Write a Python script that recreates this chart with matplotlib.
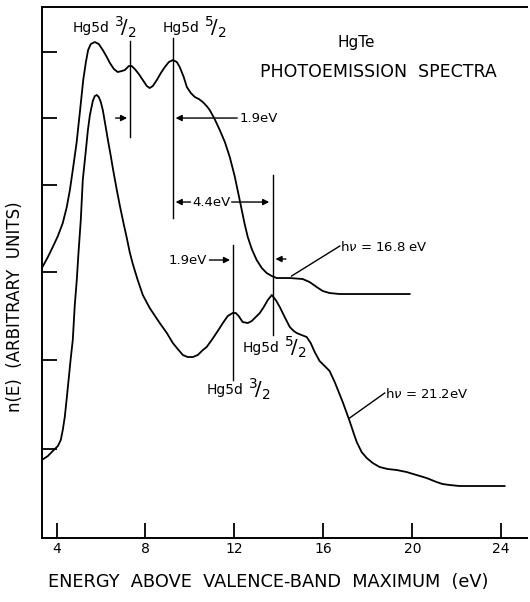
import matplotlib
matplotlib.use("Agg")
import matplotlib.pyplot as plt

# HgTe photoemission spectra (energy in eV, n(E) arbitrary)
e_168 = [3.34, 3.61, 3.83, 4.06, 4.28, 4.46, 4.60, 4.73, 4.90, 5.05, 5.20, 5.32,
         5.42, 5.54, 5.72, 5.90, 6.08, 6.26, 6.40, 6.58, 6.75, 6.93, 7.07, 7.25,
         7.38, 7.52, 7.70, 7.88, 8.06, 8.19, 8.33, 8.51, 8.69, 8.87, 9.05, 9.23,
         9.41, 9.54, 9.72, 9.86, 10.04, 10.22, 10.40, 10.58, 10.75, 10.89, 11.11,
         11.34, 11.57, 11.79, 12.01, 12.19, 12.33, 12.46, 12.60, 12.78, 13.00,
         13.23, 13.45, 13.68, 13.90, 14.49, 15.07, 15.38, 15.70, 15.97, 16.28,
         16.73, 17.63, 19.88]
n_168 = [27.0, 28.1, 29.1, 30.2, 31.5, 33.1, 34.8, 36.8, 39.5, 42.6, 45.8, 47.6,
         48.8, 49.4, 49.6, 49.4, 48.8, 48.1, 47.5, 46.9, 46.6, 46.7, 46.8, 47.2,
         47.2, 46.9, 46.4, 45.8, 45.2, 45.0, 45.2, 45.8, 46.5, 47.1, 47.6, 47.8,
         47.6, 47.1, 46.1, 45.1, 44.5, 44.1, 43.9, 43.6, 43.2, 42.8, 41.9,
         40.8, 39.6, 38.1, 36.2, 34.3, 32.8, 31.4, 30.1, 28.9, 27.8,
         27.0, 26.5, 26.2, 26.0, 26.0, 25.9, 25.6, 25.1, 24.7, 24.5,
         24.4, 24.4, 24.4]

e_212 = [3.34, 3.61, 3.83, 4.06, 4.19, 4.28, 4.37, 4.46, 4.55, 4.64, 4.73, 4.82,
         4.91, 4.98, 5.09, 5.18, 5.32, 5.41, 5.50, 5.63, 5.72, 5.81, 5.90, 5.99,
         6.08, 6.22, 6.31, 6.44, 6.53, 6.71, 6.85, 7.02, 7.16, 7.29, 7.43, 7.65,
         7.88, 8.19, 8.64, 8.96, 9.23, 9.45, 9.68, 9.90, 10.13, 10.35, 10.58,
         10.75, 10.98, 11.25, 11.48, 11.70, 11.92, 12.06, 12.19, 12.37, 12.60,
         12.78, 12.96, 13.14, 13.32, 13.50, 13.68, 13.86, 14.04, 14.26, 14.49,
         14.67, 14.80, 15.02, 15.25, 15.43, 15.61, 15.83, 16.06, 16.28, 16.51,
         16.69, 16.87, 17.05, 17.18, 17.36, 17.50, 17.72, 17.95, 18.22, 18.53,
         18.89, 19.30, 19.74, 20.19, 20.64, 21.09, 21.36, 21.68, 22.12, 24.15]
n_212 = [7.8, 8.2, 8.7, 9.2, 9.8, 10.8, 12.1, 14.0, 16.0, 18.0, 19.8, 23.3,
         25.8, 28.3, 31.8, 35.8, 38.8, 40.8, 42.3, 43.7, 44.2, 44.3, 44.1, 43.6,
         42.8, 41.0, 39.8, 38.2, 37.0, 34.8, 33.2, 31.4, 30.0, 28.6, 27.4, 25.8,
         24.3, 23.0, 21.5, 20.5, 19.5, 18.9, 18.3, 18.1, 18.1, 18.3, 18.8,
         19.1, 19.8, 20.7, 21.5, 22.2, 22.5, 22.5, 22.2, 21.6, 21.5,
         21.7, 22.1, 22.5, 23.1, 23.8, 24.3, 23.8, 23.1, 22.1, 21.1,
         20.7, 20.5, 20.3, 20.1, 19.5, 18.6, 17.7, 17.2, 16.7, 15.6,
         14.6, 13.6, 12.5, 11.7, 10.5, 9.6, 8.6, 8.0, 7.5, 7.1,
         6.9, 6.8, 6.6, 6.3, 6.0, 5.6, 5.4, 5.3, 5.2, 5.2]

x_ticks = [4, 8, 12, 16, 20, 24]
x_tick_labels = ["4", "8", "12", "16", "20", "24"]
y_ticks = [8.9, 17.8, 26.6, 35.3, 42.0, 48.6]

# positions of the Hg 5d levels (eV)
hg_32_top, hg_52_top = 7.30, 9.23
hg_32_low, hg_52_low = 11.93, 13.72

fig = plt.figure(figsize=(5.3, 6.02), dpi=100)
ax = fig.add_axes([0.079, 0.1063, 0.915, 0.882])

ax.plot(e_168, n_168, color="black", lw=1.3, solid_joinstyle="round")
ax.plot(e_212, n_212, color="black", lw=1.3, solid_joinstyle="round")

ax.set_xlim(3.34, 25.15)
ax.set_ylim(0, 53.1)
ax.spines["right"].set_visible(False)
for s in ["left", "bottom", "top"]:
    ax.spines[s].set_linewidth(1.4)
ax.set_xticks(x_ticks)
ax.set_xticklabels(x_tick_labels, fontsize=10)
ax.set_yticks(y_ticks)
ax.set_yticklabels([])
ax.tick_params(direction="in", length=11, width=1.3, pad=3)

ax.set_xlabel("ENERGY  ABOVE  VALENCE-BAND  MAXIMUM  (eV)", fontsize=12.8, va="center")
ax.xaxis.set_label_coords(0.466, -0.083)
ax.set_ylabel("n(E)  (ARBITRARY  UNITS)", fontsize=12, va="center")
ax.yaxis.set_label_coords(-0.056, 0.435)

lk = dict(color="black", lw=1.0)
ak = dict(arrowstyle="-|>", color="black", lw=1.0, mutation_scale=9)


def hg_label(x, y, num):
    # "Hg5d" followed by a j fraction like 3/2
    ax.text(x, y, "Hg5d", fontsize=10, ha="left", va="center")
    ax.annotate(r"$^{%s}\!/_{2}$" % num, (x, y), xytext=(29.5, 0.3),
                textcoords="offset points", fontsize=14, ha="left", va="center")


# vertical marker lines
ax.plot([hg_32_top, hg_32_top], [40.1, 49.7], **lk)
ax.plot([hg_52_top, hg_52_top], [32.0, 50.0], **lk)
ax.plot([hg_52_low, hg_52_low], [20.3, 36.3], **lk)
ax.plot([hg_32_low, hg_32_low], [15.8, 29.3], **lk)

# 1.9 eV split, upper spectrum
ax.annotate("", xy=(hg_32_top, 42.0), xytext=(6.53, 42.0), arrowprops=ak)
ax.annotate("", xy=(hg_52_top, 42.0), xytext=(12.25, 42.0), arrowprops=ak)
ax.text(12.25, 42.0, "1.9eV", fontsize=9.5, ha="left", va="center")

# 4.4 eV shift between the two spectra
ax.annotate("", xy=(hg_52_top, 33.6), xytext=(10.15, 33.6), arrowprops=ak)
ax.annotate("", xy=(hg_52_low - 0.03, 33.6), xytext=(11.75, 33.6), arrowprops=ak)
ax.text(10.95, 33.6, "4.4eV", fontsize=9.5, ha="center", va="center")

# 1.9 eV split, lower spectrum
ax.annotate("", xy=(hg_32_low, 27.8), xytext=(10.75, 27.8), arrowprops=ak)
ax.text(10.75, 27.8, "1.9eV", fontsize=9.5, ha="right", va="center")
ax.annotate("", xy=(hg_52_low, 27.9), xytext=(14.44, 27.9), arrowprops=ak)

# Hg 5d labels
hg_label(4.73, 51.0, "3")
hg_label(8.78, 51.0, "5")
hg_label(10.75, 14.8, "3")
hg_label(12.37, 19.0, "5")

# photon energy labels with leaders
ax.plot([14.57, 16.74], [26.2, 29.2], **lk)
ax.text(16.74, 29.1, r"h$\nu$ = 16.8 eV", fontsize=9.5, ha="left", va="center")
ax.plot([17.18, 18.76], [12.0, 14.5], **lk)
ax.text(18.76, 14.4, r"h$\nu$ = 21.2eV", fontsize=9.5, ha="left", va="center")

ax.text(17.50, 49.6, "HgTe", fontsize=11, ha="center", va="center")
ax.text(18.49, 46.6, "PHOTOEMISSION  SPECTRA", fontsize=12.5, ha="center", va="center")

fig.savefig("out.png", dpi=100)
